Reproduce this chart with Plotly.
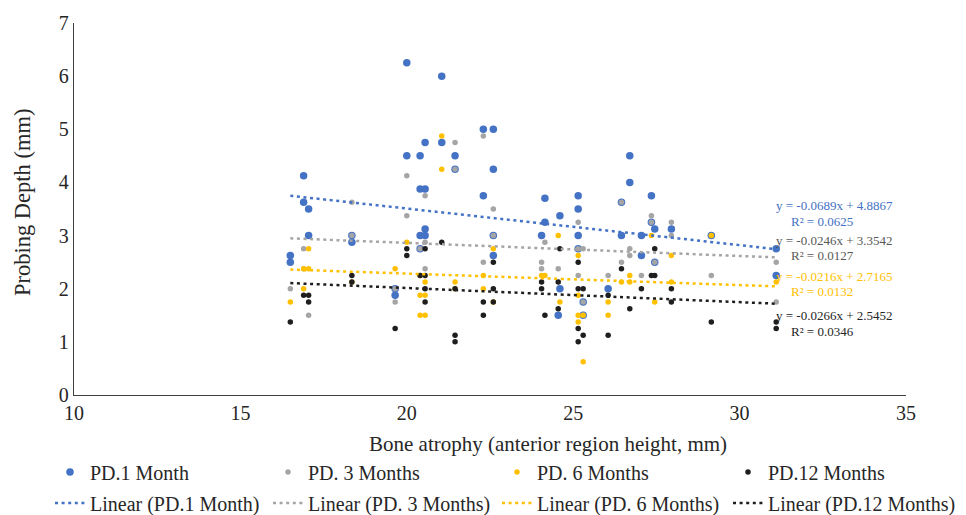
import plotly.graph_objects as go

# ---------------- data ----------------
pd1_x = [16.5, 16.5, 16.9, 16.9, 17.05, 17.05, 18.35, 18.35, 19.65, 19.65, 20.0, 20.0,
         20.4, 20.4, 20.4, 20.4, 20.55, 20.55, 20.55, 20.55, 21.05, 21.05, 21.45, 21.45,
         22.3, 22.3, 22.6, 22.6, 22.6, 22.6, 24.05, 24.15, 24.15, 24.55, 24.6, 24.6,
         25.15, 25.15, 25.15, 25.15, 25.3, 25.3, 26.05, 26.45, 26.45, 26.7, 26.7,
         27.05, 27.05, 27.35, 27.35, 27.45, 27.45, 27.95, 29.15, 31.1, 31.1]
pd1_y = [2.625, 2.5, 4.125, 3.625, 3.5, 3.0, 3.0, 2.875, 2.0, 1.875, 6.25, 4.5,
         4.5, 3.875, 3.0, 2.75, 4.75, 3.875, 3.125, 3.0, 6.0, 4.75, 4.5, 4.25,
         5.0, 3.75, 5.0, 4.25, 3.0, 2.625, 3.0, 3.7, 3.25, 1.5, 3.375, 2.0,
         3.75, 3.5, 3.0, 2.75, 1.75, 1.5, 2.0, 3.625, 3.0, 4.5, 4.0,
         3.0, 2.625, 3.75, 3.25, 3.125, 2.5, 3.125, 3.0, 2.75, 2.25]

pd3_x = [16.5, 16.9, 16.9, 17.05, 18.35, 18.35, 19.65, 19.65, 20.0, 20.0, 20.4,
         20.55, 20.55, 20.55, 21.45, 21.45, 22.3, 22.3, 22.6, 22.6, 24.05, 24.05,
         24.15, 24.55, 25.15, 25.15, 25.15, 25.3, 25.3, 25.3, 26.05, 26.45, 26.45,
         26.7, 26.7, 27.05, 27.35, 27.35, 27.45, 27.95, 27.95, 29.15, 31.1, 31.1]
pd3_y = [2.0, 2.75, 2.375, 1.5, 3.625, 3.0, 2.0, 1.75, 4.125, 3.375, 2.75,
         3.75, 2.875, 2.375, 4.75, 4.25, 4.875, 2.5, 3.5, 3.0, 2.5, 2.375,
         2.875, 2.375, 3.25, 2.75, 2.25, 2.75, 1.75, 1.5, 2.25, 3.625, 2.5,
         2.75, 2.625, 2.25, 3.375, 3.25, 2.5, 3.25, 3.0, 2.25, 2.5, 1.75]

pd6_x = [16.5, 16.9, 16.9, 17.05, 17.05, 18.35, 19.65, 20.0, 20.4, 20.4, 20.4,
         20.55, 20.55, 20.55, 21.05, 21.05, 21.45, 21.45, 22.3, 22.3, 22.6, 22.6,
         24.05, 24.15, 24.55, 24.6, 25.15, 25.15, 25.15, 25.15, 25.3, 25.3,
         26.05, 26.05, 26.45, 26.7, 26.7, 27.35, 27.45, 27.95, 27.95, 29.15, 31.1]
pd6_y = [1.75, 2.375, 2.0, 2.75, 2.375, 2.125, 2.375, 2.875, 2.25, 1.875, 1.5,
         2.125, 1.875, 1.5, 4.875, 4.25, 2.125, 2.0, 2.25, 2.0, 2.75, 1.75,
         2.25, 2.25, 3.0, 1.75, 2.625, 1.875, 1.5, 1.375, 1.5, 0.625,
         1.75, 1.5, 2.125, 2.25, 2.125, 3.0, 1.75, 2.625, 2.125, 3.0, 2.125]

pd12_x = [16.5, 16.9, 17.05, 17.05, 18.35, 18.35, 19.65, 20.0, 20.0, 20.4,
          20.55, 20.55, 20.55, 20.55, 21.05, 21.45, 21.45, 21.45, 22.3, 22.3,
          22.6, 22.6, 22.6, 24.05, 24.05, 24.15, 24.55, 24.55, 24.6,
          25.15, 25.15, 25.15, 25.15, 25.3, 25.3, 26.05, 26.05, 26.45, 26.7,
          27.05, 27.35, 27.45, 27.45, 27.95, 27.95, 29.15, 31.1, 31.1]
pd12_y = [1.375, 1.875, 1.875, 1.75, 2.25, 2.125, 1.25, 2.75, 2.625, 2.25,
          2.75, 2.25, 2.0, 1.75, 2.875, 2.0, 1.125, 1.0, 1.75, 1.5,
          2.5, 2.0, 1.75, 2.125, 2.0, 1.5, 2.125, 1.625, 2.75,
          2.5, 2.0, 1.25, 1.0, 2.0, 1.125, 1.875, 1.125, 2.375, 1.625,
          2.0, 2.25, 2.75, 2.25, 2.0, 1.75, 1.375, 1.375, 1.25]

series_names = ["PD.1 Month", "PD. 3 Months", "PD. 6 Months", "PD.12 Months"]
slopes = [-0.0689, -0.0246, -0.0216, -0.0266]
intercepts = [4.8867, 3.3542, 2.7165, 2.5452]
r2_values = ["0.0625", "0.0127", "0.0132", "0.0346"]

x_ticks = [10, 15, 20, 25, 30, 35]
y_ticks = [0, 1, 2, 3, 4, 5, 6, 7]

# ---------------- styling ----------------
colors = ["#4472C4", "#A5A5A5", "#FFC000", "#1E1E1E"]
eq_colors = ["#4472C4", "#595959", "#FFC000", "#262626"]
msizes = [7.5, 5.5, 5.5, 5.5]
FONT = "Liberation Serif"

xs = [pd1_x, pd3_x, pd6_x, pd12_x]
ys = [pd1_y, pd3_y, pd6_y, pd12_y]

fig = go.Figure()

# legend slots: text start pixel columns, row pixel y
col_text = [90, 308, 537, 768]
row_y = [464, 495]
W, H = 966, 515

for i in range(4):
    fig.add_trace(go.Scatter(
        x=xs[i], y=ys[i], mode="markers", name=series_names[i],
        marker=dict(color=colors[i], size=msizes[i], line=dict(width=0)),
        legend="legend" if i == 0 else f"legend{i + 1}",
    ))

for i in range(4):
    x0, x1 = min(xs[i]), max(xs[i])
    fig.add_trace(go.Scatter(
        x=[x0, x1], y=[slopes[i] * x0 + intercepts[i], slopes[i] * x1 + intercepts[i]],
        mode="lines", name=f"Linear ({series_names[i]})",
        line=dict(color=colors[i], width=2.5, dash="3px,3.6px"),
        legend=f"legend{i + 5}",
    ))

# equation labels
eq_y = [(3.557, 3.274), (2.898, 2.616), (2.221, 1.957), (1.487, 1.186)]
for i in range(4):
    fig.add_annotation(x=31.02, y=eq_y[i][0], xref="x", yref="y",
                       text=f"y = {slopes[i]:.4f}x + {intercepts[i]:.4f}",
                       showarrow=False, xanchor="left", yanchor="middle",
                       font=dict(family=FONT, size=13, color=eq_colors[i]))
    fig.add_annotation(x=31.47, y=eq_y[i][1], xref="x", yref="y",
                       text=f"R² = {r2_values[i]}",
                       showarrow=False, xanchor="left", yanchor="middle",
                       font=dict(family=FONT, size=13, color=eq_colors[i]))

# axis titles
fig.add_annotation(x=0.5697, y=-0.1317, xref="paper", yref="paper",
                   text="Bone atrophy (anterior region height, mm)", showarrow=False,
                   xanchor="center", yanchor="middle",
                   font=dict(family=FONT, size=21, color="#262626"))
fig.add_annotation(x=-0.0625, y=0.516, xref="paper", yref="paper",
                   text="Probing Depth (mm)", showarrow=False, textangle=-90,
                   xanchor="center", yanchor="middle",
                   font=dict(family=FONT, size=22.5, color="#262626"))

legend_layout = {}
for k in range(8):
    key = "legend" if k == 0 else f"legend{k + 1}"
    col = k % 4
    row = k // 4
    legend_layout[key] = dict(
        xref="container", yref="container",
        x=(col_text[col] - 48) / W, y=1 - row_y[row] / H,
        xanchor="left", yanchor="middle",
        bgcolor="rgba(0,0,0,0)", borderwidth=0,
        font=dict(family=FONT, size=20, color="#262626"),
        itemwidth=30,
    )

fig.update_layout(
    width=W, height=H,
    margin=dict(l=66, r=68, t=15, b=128, autoexpand=False),
    paper_bgcolor="white", plot_bgcolor="white",
    font=dict(family=FONT, size=20, color="#262626"),
    showlegend=True,
    **legend_layout,
)

fig.update_xaxes(range=[10, 35], tickvals=x_ticks, showgrid=False, zeroline=False,
                 showline=True, linecolor="#404040", linewidth=1.3, ticks="",
                 tickfont=dict(family=FONT, size=20, color="#262626"))
fig.update_yaxes(range=[0, 7], tickvals=y_ticks, showgrid=False, zeroline=False,
                 showline=True, linecolor="#404040", linewidth=1.3, ticks="",
                 tickfont=dict(family=FONT, size=20, color="#262626"))

fig.write_html("out.html")
